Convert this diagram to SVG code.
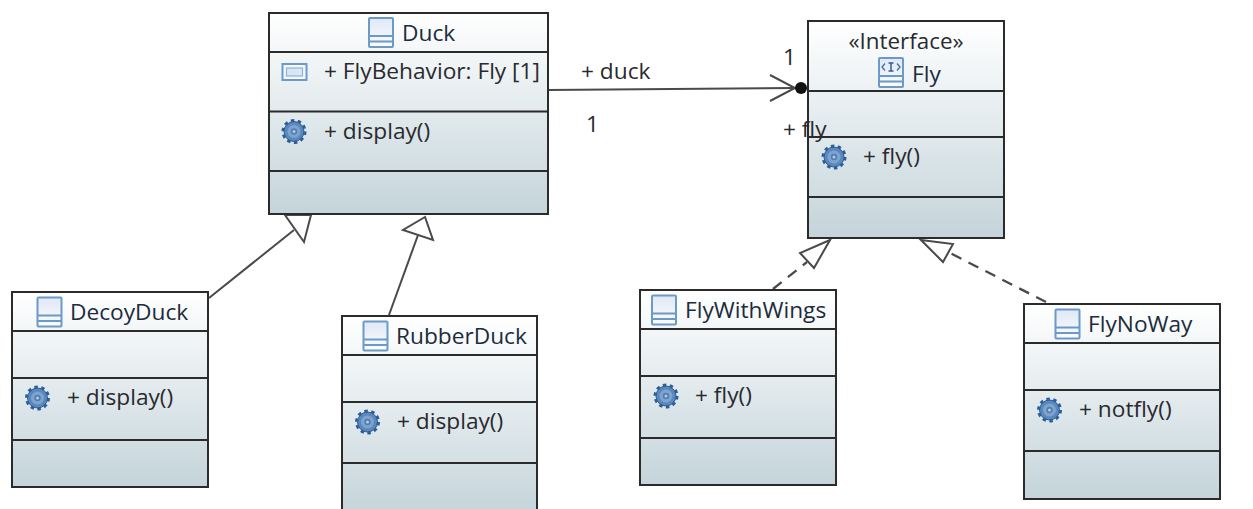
<svg xmlns="http://www.w3.org/2000/svg" width="1253" height="509" viewBox="0 0 1253 509">
<style>
text{font-family:"Open Sans","Noto Sans","Liberation Sans",sans-serif;font-size:22.700px;fill:#2a2a2e}
.t{fill:#1c2c3c}
.box{fill:url(#bg);stroke:#2b2b2b;stroke-width:2}
.div{stroke:#2b2b2b;stroke-width:2;fill:none}
.ln{stroke:#4a4a4a;stroke-width:2;fill:none}
.dash{stroke:#4a4a4a;stroke-width:2.300;fill:none;stroke-dasharray:11 8}
.tri{fill:#fff;stroke:#4a4a4a;stroke-width:2;stroke-linejoin:miter}
.ic{fill:url(#icbg);stroke:#6b9ac8;stroke-width:2}
</style>
<defs>
<linearGradient id="bg" x1="0" y1="0" x2="0" y2="1"><stop offset="0" stop-color="#ffffff"/><stop offset="1" stop-color="#c4d4da"/></linearGradient>
<linearGradient id="icbg" x1="0" y1="0" x2="0" y2="1"><stop offset="0" stop-color="#e0e8f5"/><stop offset="1" stop-color="#fbfcfe"/></linearGradient>
<symbol id="cls" width="26" height="32" viewBox="0 0 26 32" overflow="visible"><rect class="ic" x="1" y="1" width="24" height="29" rx="1"/><path d="M1 19H25M1 24.500H25" stroke="#6b9ac8" stroke-width="2" fill="none"/></symbol>
<symbol id="ifc" width="26" height="32" viewBox="0 0 26 32" overflow="visible"><rect class="ic" x="1" y="1" width="24" height="29" rx="1"/><path d="M1 19H25M1 24.500H25" stroke="#6b9ac8" stroke-width="2" fill="none"/><path d="M7 6.500L4 10L7 13.500M19 6.500L22 10L19 13.500" stroke="#3f6ea5" stroke-width="1.300" fill="none"/><path d="M10.500 6H15.500M13 6V14M10.500 14H15.500" stroke="#2f5f96" stroke-width="1.500" fill="none"/></symbol>
<symbol id="attr" width="26" height="18" viewBox="0 0 26 18" overflow="visible"><rect x="1" y="1" width="24" height="16" fill="#f4f7fc" stroke="#6b9ac8" stroke-width="2"/><rect x="5" y="5" width="16" height="8" fill="#dce6f3" stroke="#8fb3d9" stroke-width="1.200"/></symbol>
<symbol id="gear" width="26" height="26" viewBox="-13 -13 26 26" overflow="visible"><circle r="10" fill="#5a88bd" stroke="#2d5e98" stroke-width="1"/><circle r="11" fill="none" stroke="#2d5e98" stroke-width="3" stroke-dasharray="3.450 3.460"/><circle r="6.500" fill="#7fa3cc"/><circle r="3.200" fill="#4f7eb5"/><circle r="1.500" fill="#b5c9e2"/></symbol>
</defs>

<g id="connectors">
<path class="ln" d="M548 90L794 88"/>
<path class="ln" d="M770 75L795 88L770 101"/>
<circle cx="801" cy="88" r="6" fill="#111"/>
<path class="ln" d="M209 298L294 230"/>
<path class="tri" d="M285 215L311 215L304 242Z"/>
<path class="ln" d="M389 315L418 235"/>
<path class="tri" d="M425 217L403 230L433 240Z"/>
<path class="dash" d="M773 289L807 262"/>
<path class="tri" d="M830 240L800 253L814 268Z"/>
<path class="dash" d="M1046 302L950 253"/>
<path class="tri" d="M921 240L953 244L943 262Z"/>
</g>

<g id="Duck">
<rect class="box" x="269" y="13" width="279" height="201"/>
<path class="div" d="M269 52H548M269 111.500H548M269 171H548"/>
<use href="#cls" x="368" y="17"/>
<text class="t" x="402" y="41">Duck</text>
<use href="#attr" x="281.500" y="63"/>
<text x="324" y="79">+ FlyBehavior: Fly [1]</text>
<use href="#gear" x="281" y="118.500"/>
<text x="324" y="139">+ display()</text>
</g>

<g id="Fly">
<rect class="box" x="808" y="21" width="196" height="217"/>
<path class="div" d="M808 91H1004M808 137H1004M808 197H1004"/>
<text x="906" y="49" text-anchor="middle" style="font-size:22.400px">«Interface»</text>
<use href="#ifc" x="878" y="57"/>
<text class="t" x="912" y="82">Fly</text>
<use href="#gear" x="821" y="144"/>
<text x="863" y="164">+ fly()</text>
</g>

<g id="DecoyDuck">
<rect class="box" x="12" y="292" width="196" height="195"/>
<path class="div" d="M12 331H208M12 378H208M12 440H208"/>
<use href="#cls" x="36.500" y="296.500"/>
<text class="t" x="70" y="320">DecoyDuck</text>
<use href="#gear" x="24.500" y="385"/>
<text x="67" y="405">+ display()</text>
</g>

<g id="RubberDuck">
<rect class="box" x="342" y="316" width="195" height="200"/>
<path class="div" d="M342 355H537M342 402H537M342 463H537"/>
<use href="#cls" x="362.500" y="320.500"/>
<text class="t" x="396" y="344">RubberDuck</text>
<use href="#gear" x="354.500" y="409"/>
<text x="397" y="429">+ display()</text>
</g>

<g id="FlyWithWings">
<rect class="box" x="640" y="290" width="196" height="195"/>
<path class="div" d="M640 329H836M640 376H836M640 438H836"/>
<use href="#cls" x="651" y="294.500"/>
<text class="t" x="685" y="318">FlyWithWings</text>
<use href="#gear" x="653" y="383"/>
<text x="695" y="403">+ fly()</text>
</g>

<g id="FlyNoWay">
<rect class="box" x="1024" y="304" width="196" height="195"/>
<path class="div" d="M1024 343H1220M1024 390H1220M1024 451H1220"/>
<use href="#cls" x="1054.500" y="308.500"/>
<text class="t" x="1088" y="332">FlyNoWay</text>
<use href="#gear" x="1036.500" y="397"/>
<text x="1079" y="417">+ notfly()</text>
</g>

<g id="labels">
<text x="581" y="79">+ duck</text>
<text x="586" y="132">1</text>
<text x="783" y="65">1</text>
<text x="783" y="137">+ fly</text>
</g>
</svg>
